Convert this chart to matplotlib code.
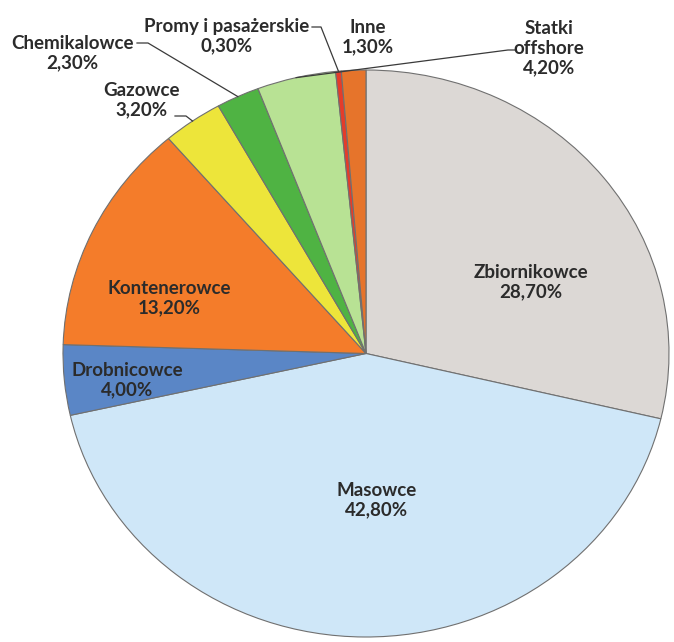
import numpy as np
import matplotlib
matplotlib.use('Agg')
import matplotlib.pyplot as plt

# udział typów statków (%)
nazwy = ['Zbiornikowce', 'Masowce', 'Drobnicowce', 'Kontenerowce', 'Gazowce',
         'Chemikalowce', 'Statki\noffshore', 'Promy i pasażerskie', 'Inne']
udzialy = [28.7, 42.8, 4.0, 13.2, 3.2, 2.3, 4.2, 0.3, 1.3]
kolory = ['#dcd8d5', '#cfe7f8', '#5a86c6', '#f47c2a', '#ede53a',
          '#4fb343', '#b8e294', '#e53c2a', '#e6742b']

# pozycje etykiet w pikselach obrazka (x, y od góry)
poz_etykiet = [(531, 282), (377, 500), (127, 380), (169, 298), (142, 100),
               (72, 53), (549, 48), (227, 36), (368, 37)]
# linie odniesienia: (indeks, koniec tekstu x, y, kolano x)
linie = [(5, 137, 43, 148), (7, 312, 27, 321), (6, 515, 50, 508), (4, 175, 116, 186)]

W, H = 674, 642
fig = plt.figure(figsize=(W / 100, H / 100), dpi=100)
fig.patch.set_facecolor('white')

# obszar koła (lekko spłaszczony jak na skanie)
lewo, prawo, gora, dol = 63, 669, 70, 637
ax = fig.add_axes([lewo / W, (H - dol) / H, (prawo - lewo) / W, (dol - gora) / H])
klin, _ = ax.pie(udzialy, colors=kolory, startangle=90, counterclock=False,
                 radius=1.0, wedgeprops=dict(edgecolor='#707070', linewidth=0.8))
ax.set_aspect('auto')
ax.set_xlim(-1, 1)
ax.set_ylim(-1, 1)

# warstwa na teksty i linie w pikselach
ov = fig.add_axes([0, 0, 1, 1])
ov.set_xlim(0, W)
ov.set_ylim(H, 0)
ov.axis('off')
ov.patch.set_alpha(0)

for nazwa, wart, (x, y) in zip(nazwy, udzialy, poz_etykiet):
    tekst = f'{nazwa}\n{wart:.2f}%'.replace('.', ',')
    ov.text(x, y, tekst, ha='center', va='center', fontsize=13.5,
            fontweight='bold', family=['Lato', 'DejaVu Sans'],
            color='#2b2b2b', linespacing=1.2)

for i, tx, ty, kx in linie:
    w = klin[i]
    kat = np.deg2rad((w.theta1 + w.theta2) / 2)
    px, py = ax.transData.transform((np.cos(kat), np.sin(kat)))
    py = H - py
    ov.plot([tx, kx, px], [ty, ty, py], color='#3a3a3a', linewidth=0.9)

fig.savefig('out.png', dpi=100, facecolor='white')
